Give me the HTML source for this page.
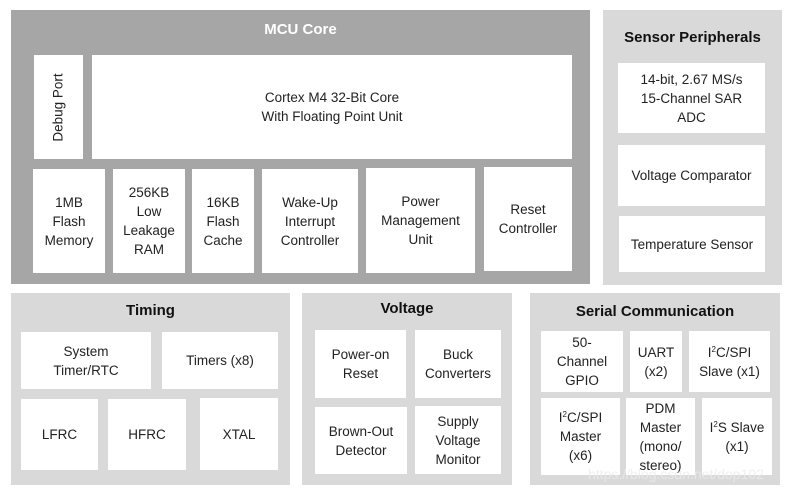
<!DOCTYPE html>
<html><head><meta charset="utf-8"><style>
body{margin:0;width:797px;height:495px;background:#fff;position:relative;overflow:hidden;font-family:"Liberation Sans",Arial,sans-serif;}
.p{position:absolute;}
.d{background:#a6a6a6;}
.l{background:#d9d9d9;}
.b{position:absolute;background:#fff;display:flex;align-items:center;justify-content:center;text-align:center;color:#222;font-size:13.5px;line-height:19px;}
.t{position:absolute;font-weight:bold;font-size:15px;color:#111;text-align:center;}
sup{font-size:8px;line-height:0;vertical-align:5px;}
</style></head><body>
<div class="p d" style="left:11px;top:10px;width:579px;height:274px"></div>
<div class="t" style="left:11px;width:579px;top:21px;color:#fff">MCU Core</div>
<div class="b" style="left:34px;top:55px;width:49px;height:104px"><span style="transform:rotate(-90deg);white-space:nowrap">Debug Port</span></div>
<div class="b" style="left:92px;top:55px;width:480px;height:104px">Cortex M4 32-Bit Core<br>With Floating Point Unit</div>
<div class="b" style="left:33px;top:169px;width:72px;height:104px">1MB<br>Flash<br>Memory</div>
<div class="b" style="left:113px;top:169px;width:72px;height:104px">256KB<br>Low<br>Leakage<br>RAM</div>
<div class="b" style="left:192px;top:169px;width:62px;height:104px">16KB<br>Flash<br>Cache</div>
<div class="b" style="left:262px;top:169px;width:96px;height:104px">Wake-Up<br>Interrupt<br>Controller</div>
<div class="b" style="left:366px;top:168px;width:109px;height:105px">Power<br>Management<br>Unit</div>
<div class="b" style="left:484px;top:167px;width:88px;height:104px">Reset<br>Controller</div>

<div class="p l" style="left:603px;top:10px;width:179px;height:275px"></div>
<div class="t" style="left:603px;width:179px;top:29px">Sensor Peripherals</div>
<div class="b" style="left:618px;top:63px;width:147px;height:70px">14-bit, 2.67 MS/s<br>15-Channel SAR<br>ADC</div>
<div class="b" style="left:618px;top:145px;width:147px;height:61px">Voltage Comparator</div>
<div class="b" style="left:619px;top:216px;width:146px;height:56px">Temperature Sensor</div>

<div class="p l" style="left:11px;top:293px;width:279px;height:192px"></div>
<div class="t" style="left:11px;width:279px;top:302px">Timing</div>
<div class="b" style="left:21px;top:332px;width:130px;height:57px">System<br>Timer/RTC</div>
<div class="b" style="left:162px;top:332px;width:116px;height:57px">Timers (x8)</div>
<div class="b" style="left:21px;top:399px;width:77px;height:71px">LFRC</div>
<div class="b" style="left:108px;top:399px;width:78px;height:71px">HFRC</div>
<div class="b" style="left:200px;top:398px;width:78px;height:72px">XTAL</div>

<div class="p l" style="left:302px;top:293px;width:210px;height:192px"></div>
<div class="t" style="left:302px;width:210px;top:300px">Voltage</div>
<div class="b" style="left:315px;top:330px;width:91px;height:68px">Power-on<br>Reset</div>
<div class="b" style="left:415px;top:330px;width:86px;height:68px">Buck<br>Converters</div>
<div class="b" style="left:315px;top:407px;width:92px;height:67px">Brown-Out<br>Detector</div>
<div class="b" style="left:415px;top:406px;width:86px;height:68px">Supply<br>Voltage<br>Monitor</div>

<div class="p l" style="left:530px;top:293px;width:250px;height:192px"></div>
<div class="t" style="left:530px;width:250px;top:303px">Serial Communication</div>
<div class="b" style="left:541px;top:331px;width:82px;height:61px">50-<br>Channel<br>GPIO</div>
<div class="b" style="left:630px;top:331px;width:52px;height:61px">UART<br>(x2)</div>
<div class="b" style="left:689px;top:331px;width:81px;height:61px"><span>I<sup>2</sup>C/SPI<br>Slave (x1)</span></div>
<div class="b" style="left:541px;top:398px;width:79px;height:77px"><span>I<sup>2</sup>C/SPI<br>Master<br>(x6)</span></div>
<div class="b" style="left:626px;top:398px;width:69px;height:77px">PDM<br>Master<br>(mono/<br>stereo)</div>
<div class="b" style="left:702px;top:398px;width:70px;height:77px"><span>I<sup>2</sup>S Slave<br>(x1)</span></div>
<div class="p" style="left:588px;top:466px;font-size:14px;color:rgba(235,235,235,0.8);">https://blog.csdn.net/dop102</div>
</body></html>
